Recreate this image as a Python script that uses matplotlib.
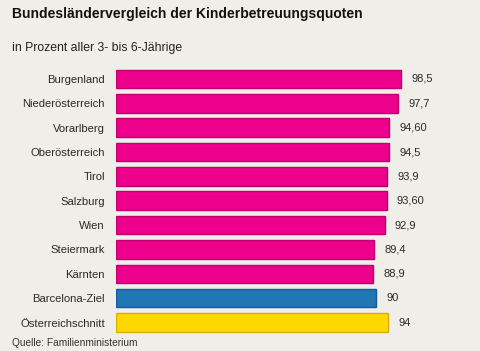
import matplotlib
matplotlib.use("Agg")
import matplotlib.pyplot as plt

categories = ["Burgenland", "Niederösterreich", "Vorarlberg", "Oberösterreich", "Tirol",
              "Salzburg", "Wien", "Steiermark", "Kärnten", "Barcelona-Ziel", "Österreichschnitt"]
values = [98.5, 97.7, 94.6, 94.5, 93.9, 93.6, 92.9, 89.4, 88.9, 90, 94]
value_labels = ["98,5", "97,7", "94,60", "94,5", "93,9", "93,60", "92,9", "89,4", "88,9", "90", "94"]

bg = "#efeee8"
face = ["#ec008c"] * 9 + ["#2176b4", "#ffd700"]
edge = ["#c0006f"] * 9 + ["#17599a", "#d9ae00"]

plt.rcParams['font.family'] = ['Liberation Sans', 'DejaVu Sans']
fig = plt.figure(figsize=(4.8, 3.51), dpi=100, facecolor=bg)
ax = fig.add_axes([116/480, 1-334.7/351, (460-116)/480, (334.7-66.8)/351])
ax.set_facecolor(bg)

y = list(range(len(categories)))
ax.barh(y, values, height=0.76, color=face, edgecolor=edge, linewidth=1)
ax.set_ylim(len(categories)-0.5, -0.5)
ax.set_xlim(0, 119)
for yi, v, lab in zip(y, values, value_labels):
    ax.annotate(lab, (v, yi), xytext=(7.5, 0), textcoords="offset points",
                va="center", ha="left", fontsize=8, color="#2a2a2a")
ax.set_yticks(y)
ax.set_yticklabels(categories, fontsize=8.1, color="#2a2a2a")
ax.tick_params(axis="y", length=0, pad=8)
ax.set_xticks([])
for s in ax.spines.values():
    s.set_visible(False)

fig.text(12/480, 1-14/351, "Bundesländervergleich der Kinderbetreuungsquoten",
         fontsize=10, fontweight="bold", color="#111111", va="center", ha="left")
fig.text(12/480, 1-48/351, "in Prozent aller 3- bis 6-Jährige",
         fontsize=8.8, color="#222222", va="center", ha="left")
fig.text(12/480, 1-343/351, "Quelle: Familienministerium",
         fontsize=7.3, color="#333333", va="center", ha="left")

fig.savefig("out.png", dpi=100, facecolor=bg)
